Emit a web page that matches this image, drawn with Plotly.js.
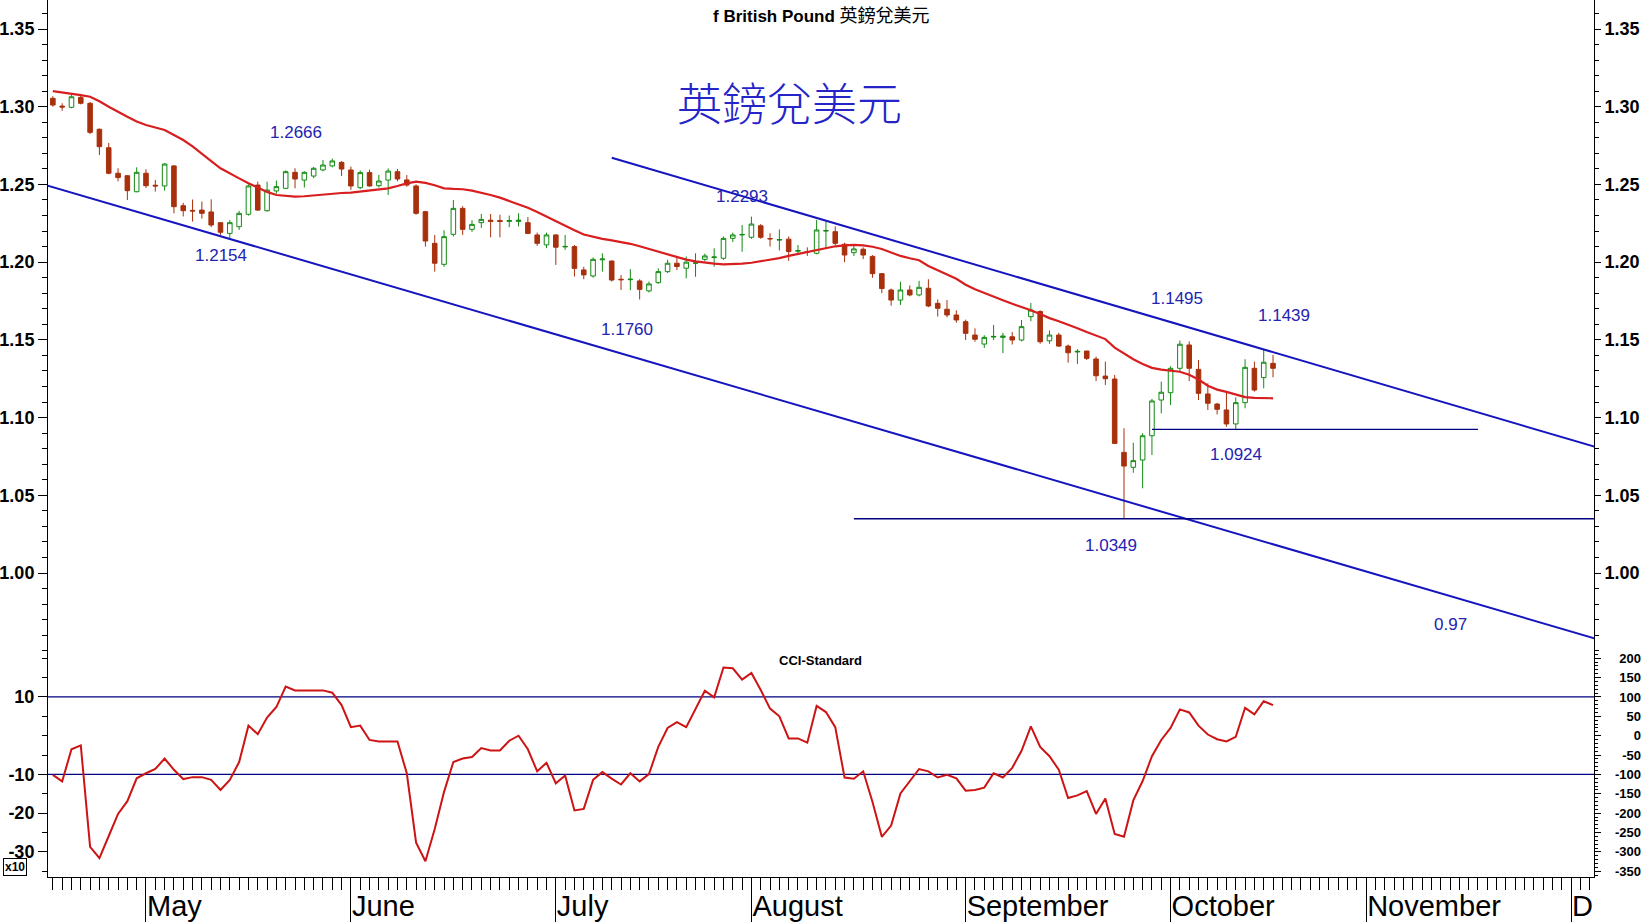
<!DOCTYPE html>
<html>
<head>
<meta charset="utf-8">
<script src="https://cdn.plot.ly/plotly-3.0.1.min.js"></script>
<style>
html,body{margin:0;padding:0;background:#fff;}
#chart{width:1643px;height:922px;}
</style>
</head>
<body>
<div id="chart"></div>
<script>
// ---------------- DATA ----------------
const firstDate = '2022-04-18';
const lastDate  = '2022-10-18';

const open = [
1.3054,1.3004,1.2996,1.3060,1.3022,1.2855,1.2736,1.2572,1.2556,1.2453,
1.2572,1.2495,1.2490,1.2619,1.2363,1.2333,1.2335,1.2323,1.2254,1.2185,
1.2228,1.2308,1.2496,1.2331,1.2458,1.2475,1.2578,1.2528,1.2554,1.2593,
1.2619,1.2642,1.2593,1.2479,1.2576,1.2492,1.2528,1.2582,1.2529,1.2490,
1.2325,1.2121,1.1986,1.2179,1.2346,1.2211,1.2254,1.2270,1.2268,1.2262,
1.2262,1.2254,1.2175,1.2111,1.2175,1.2098,1.2100,1.1950,1.1911,1.2015,
1.2007,1.1890,1.1887,1.1879,1.1815,1.1868,1.1939,1.1993,1.1961,1.1993,
1.2018,1.2030,1.2025,1.2153,1.2175,1.2160,1.2234,1.2152,1.2142,1.2148,
1.2070,1.2068,1.2057,1.2200,1.2196,1.2115,1.2061,1.2083,1.2037,1.1926,
1.1821,1.1756,1.1821,1.1789,1.1832,1.1735,1.1697,1.1660,1.1617,1.1531,
1.1473,1.1518,1.1516,1.1520,1.1499,1.1649,1.1682,1.1494,1.1531,1.1460,
1.1422,1.1428,1.1377,1.1267,1.1248,1.0776,1.0680,1.0727,1.0883,1.1113,
1.1160,1.1317,1.1467,1.1310,1.1152,1.1087,1.1049,1.0959,1.1096,1.1317,
1.1257,1.1349];
const high = [
1.3068,1.3022,1.3075,1.3079,1.3030,1.2860,1.2767,1.2604,1.2560,1.2610,
1.2598,1.2529,1.2638,1.2625,1.2381,1.2403,1.2390,1.2404,1.2256,1.2270,
1.2330,1.2500,1.2518,1.2518,1.2525,1.2590,1.2604,1.2585,1.2612,1.2657,
1.2666,1.2650,1.2615,1.2590,1.2595,1.2561,1.2603,1.2600,1.2560,1.2500,
1.2330,1.2175,1.2205,1.2400,1.2360,1.2270,1.2310,1.2310,1.2305,1.2300,
1.2315,1.2290,1.2190,1.2190,1.2180,1.2175,1.2110,1.1970,1.2030,1.2057,
1.2010,1.1917,1.1955,1.1890,1.1875,1.1960,1.2015,1.2036,1.2036,1.2057,
1.2055,1.2089,1.2165,1.2190,1.2239,1.2293,1.2245,1.2186,1.2210,1.2165,
1.2110,1.2095,1.2272,1.2260,1.2230,1.2125,1.2110,1.2095,1.2045,1.1930,
1.1830,1.1874,1.1850,1.1880,1.1890,1.1760,1.1756,1.1690,1.1630,1.1574,
1.1530,1.1596,1.1545,1.1550,1.1628,1.1737,1.1690,1.1560,1.1546,1.1470,
1.1440,1.1430,1.1392,1.1360,1.1274,1.0931,1.0838,1.0900,1.1120,1.1231,
1.1330,1.1495,1.1490,1.1370,1.1221,1.1095,1.1160,1.1130,1.1375,1.1360,
1.1439,1.1403];
const low = [
1.3000,1.2974,1.2990,1.3015,1.2824,1.2689,1.2565,1.2520,1.2400,1.2450,
1.2477,1.2454,1.2460,1.2314,1.2294,1.2261,1.2280,1.2225,1.2175,1.2154,
1.2207,1.2300,1.2330,1.2325,1.2440,1.2470,1.2475,1.2480,1.2540,1.2585,
1.2610,1.2554,1.2465,1.2470,1.2485,1.2480,1.2432,1.2520,1.2485,1.2305,
1.2100,1.1939,1.1970,1.2165,1.2175,1.2195,1.2220,1.2160,1.2160,1.2225,
1.2230,1.2180,1.2105,1.2090,1.1982,1.2079,1.1907,1.1890,1.1900,1.1939,
1.1875,1.1821,1.1820,1.1760,1.1805,1.1860,1.1930,1.1949,1.1896,1.1906,
1.2005,1.1971,1.2015,1.2130,1.2067,1.2150,1.2150,1.2100,1.2075,1.2008,
1.2050,1.2040,1.2050,1.2089,1.2110,1.2000,1.2040,1.2020,1.1900,1.1800,
1.1720,1.1724,1.1780,1.1780,1.1710,1.1650,1.1645,1.1610,1.1499,1.1488,
1.1448,1.1499,1.1415,1.1470,1.1490,1.1620,1.1475,1.1475,1.1455,1.1353,
1.1345,1.1370,1.1235,1.1210,1.0830,1.0349,1.0645,1.0545,1.0759,1.1027,
1.1081,1.1300,1.1235,1.1113,1.1049,1.1020,1.0941,1.0924,1.1060,1.1167,
1.1188,1.1259];
const close = [
1.3011,1.2998,1.3064,1.3022,1.2835,1.2743,1.2572,1.2544,1.2460,1.2578,
1.2492,1.2490,1.2631,1.2357,1.2331,1.2329,1.2314,1.2239,1.2192,1.2254,
1.2314,1.2490,1.2335,1.2464,1.2486,1.2582,1.2535,1.2578,1.2604,1.2625,
1.2651,1.2599,1.2490,1.2576,1.2490,1.2522,1.2586,1.2535,1.2496,1.2314,
1.2136,1.1993,1.2164,1.2346,1.2211,1.2243,1.2275,1.2262,1.2262,1.2268,
1.2270,1.2185,1.2121,1.2175,1.2096,1.2101,1.1960,1.1918,1.2018,1.2020,
1.1885,1.1887,1.1890,1.1825,1.1860,1.1939,1.1993,1.1972,1.2000,1.1995,
1.2040,1.2033,1.2153,1.2175,1.2178,1.2245,1.2160,1.2150,1.2145,1.2068,
1.2075,1.2066,1.2207,1.2203,1.2121,1.2046,1.2085,1.2046,1.1926,1.1830,
1.1756,1.1821,1.1789,1.1838,1.1718,1.1703,1.1660,1.1628,1.1542,1.1504,
1.1516,1.1522,1.1524,1.1499,1.1585,1.1692,1.1488,1.1531,1.1460,1.1417,
1.1426,1.1381,1.1269,1.1250,1.0834,1.0688,1.0723,1.0883,1.1107,1.1163,
1.1317,1.1472,1.1317,1.1156,1.1092,1.1053,1.0959,1.1096,1.1323,1.1177,
1.1356,1.1317];

// moving average (red line)
const movingAvg = [
1.3100,1.3092,1.3085,1.3075,1.3064,1.3035,1.3000,1.2965,1.2935,1.2905,
1.2882,1.2866,1.2850,1.2818,1.2786,1.2745,1.2700,1.2650,1.2604,1.2570,
1.2539,1.2508,1.2479,1.2452,1.2432,1.2425,1.2421,1.2424,1.2430,1.2437,
1.2443,1.2445,1.2447,1.2453,1.2460,1.2468,1.2475,1.2490,1.2507,1.2518,
1.2510,1.2495,1.2475,1.2471,1.2469,1.2460,1.2447,1.2432,1.2415,1.2395,
1.2372,1.2350,1.2322,1.2292,1.2262,1.2235,1.2205,1.2178,1.2162,1.2150,
1.2140,1.2130,1.2118,1.2102,1.2085,1.2066,1.2050,1.2032,1.2016,1.2005,
1.1997,1.1990,1.1986,1.1987,1.1991,1.1996,1.2005,1.2015,1.2026,1.2040,
1.2052,1.2064,1.2078,1.2090,1.2102,1.2108,1.2111,1.2108,1.2099,1.2085,
1.2060,1.2040,1.2025,1.2012,1.1975,1.1950,1.1920,1.1893,1.1855,1.1825,
1.1800,1.1778,1.1755,1.1732,1.1712,1.1690,1.1666,1.1640,1.1620,1.1600,
1.1575,1.1550,1.1530,1.1505,1.1450,1.1410,1.1375,1.1345,1.1320,1.1308,
1.1300,1.1295,1.1275,1.1245,1.1205,1.1180,1.1165,1.1150,1.1132,1.1127,
1.1125,1.1124];

// CCI-Standard values
const cci = [
-101,-118,-35,-25,-287,-316,-259,-202,-169,-110,
-97,-86,-59,-88,-112,-107,-107,-114,-140,-114,
-68,26,4,47,74,127,117,117,117,117,
111,79,22,26,-11,-15,-15,-15,-97,-276,
-324,-241,-145,-68,-59,-55,-32,-38,-38,-13,
0,-35,-92,-70,-123,-103,-193,-189,-114,-94,
-111,-126,-97,-118,-99,-29,20,35,22,70,
116,99,176,174,145,162,118,70,50,-7,
-7,-18,77,61,22,-108,-111,-92,-171,-261,
-232,-149,-118,-86,-92,-108,-101,-110,-142,-140,
-134,-97,-108,-83,-39,24,-29,-53,-88,-161,
-154,-143,-202,-162,-254,-261,-167,-117,-53,-11,
20,68,60,26,3,-9,-15,-3,72,55,
89,79];

// month ticks (first trading day of each month) and their labels
const monthStarts = ['2022-05-02','2022-06-01','2022-07-01','2022-08-01','2022-09-01','2022-10-03','2022-11-01','2022-12-01'];
const monthLabels = ['May','June','July','August','September','October','November','D'];

// trend channel lines: [date, price]
const upperChannel = [['2022-07-11',1.2672],['2022-12-06',1.0804]];
const lowerChannel = [['2022-04-15',1.2500],['2022-12-06',0.9571]];
// horizontal levels: value, from, to
const levelLow  = {value:1.0349, from:'2022-08-16', to:'2022-12-06'};
const levelMid  = {value:1.0924, from:'2022-09-29', to:'2022-11-17'};
const cciBands  = [100,-100];

// price labels on chart
const priceLabels = ['1.2666','1.2154','1.2293','1.1760','1.1495','1.1439','1.0924','1.0349','0.97'];
const priceTicks = [1.00,1.05,1.10,1.15,1.20,1.25,1.30,1.35];
const cciLeftTicks = [100,-100,-200,-300];
const cciLeftText = ['10','-10','-20','-30'];
const cciRightTicks = [200,150,100,50,0,-50,-100,-150,-200,-250,-300,-350];

// ---------------- HELPERS ----------------
const BASE = Date.UTC(2022,3,18);
function wd(s){ // weekday index relative to first date
  const t = Date.parse(s+'T00:00:00Z');
  const days = Math.round((t-BASE)/864e5);
  let n=0;
  if(days>=0){ for(let i=0;i<days;i++){const d=new Date(BASE+i*864e5).getUTCDay(); if(d!==0&&d!==6) n++;} }
  else { for(let i=-1;i>=days;i--){const d=new Date(BASE+i*864e5).getUTCDay(); if(d!==0&&d!==6) n--;} }
  return n;
}
const xIdx = open.map((_,i)=>i);

// ---------------- LAYOUT GEOMETRY ----------------
const W=1643,H=922,ML=48,MR=2,MT=0,MB=45;
const PW=W-ML-MR, PH=H-MT-MB;
const plotRight=1594;
const xDomEnd=(plotRight-ML)/PW;
const paneSplit=(PH-651.6)/PH;
const px = x => (x-ML)/PW;
const py = y => (PH+MT-y)/PH;

const FONT='Liberation Sans, Arial, sans-serif';
const CJK='Noto Sans CJK TC, Noto Sans CJK SC, sans-serif';
const BLUE='#1515c0';
const LBL='#2323b0';
const NAVY='#000080';

const traces = [
  {type:'candlestick', x:xIdx, open:open, high:high, low:low, close:close,
   xaxis:'x', yaxis:'y', whiskerwidth:0, hoverinfo:'skip', showlegend:false,
   increasing:{line:{color:'#138a13',width:1}, fillcolor:'#ffffff'},
   decreasing:{line:{color:'#a8300c',width:1}, fillcolor:'#a8300c'}},
  {type:'scatter', mode:'lines', x:xIdx, y:movingAvg, xaxis:'x', yaxis:'y',
   line:{color:'#d81e1e', width:2.2}, hoverinfo:'skip', showlegend:false},
  {type:'scatter', mode:'lines', x:upperChannel.map(p=>wd(p[0])), y:upperChannel.map(p=>p[1]),
   xaxis:'x', yaxis:'y', line:{color:BLUE,width:2}, hoverinfo:'skip', showlegend:false},
  {type:'scatter', mode:'lines', x:lowerChannel.map(p=>wd(p[0])), y:lowerChannel.map(p=>p[1]),
   xaxis:'x', yaxis:'y', line:{color:BLUE,width:2}, hoverinfo:'skip', showlegend:false},
  {type:'scatter', mode:'lines', x:[wd(levelLow.from),wd(levelLow.to)], y:[levelLow.value,levelLow.value],
   xaxis:'x', yaxis:'y', line:{color:NAVY,width:1.3}, hoverinfo:'skip', showlegend:false},
  {type:'scatter', mode:'lines', x:[wd(levelMid.from),wd(levelMid.to)], y:[levelMid.value,levelMid.value],
   xaxis:'x', yaxis:'y', line:{color:NAVY,width:1.3}, hoverinfo:'skip', showlegend:false},
  {type:'scatter', mode:'lines', x:xIdx, y:cci, xaxis:'x', yaxis:'y3',
   line:{color:'#cc1414', width:2}, hoverinfo:'skip', showlegend:false},
  // helpers so overlay axes are drawn
  {type:'scatter', x:[null], y:[null], xaxis:'x', yaxis:'y2', hoverinfo:'skip', showlegend:false},
  {type:'scatter', x:[null], y:[null], xaxis:'x', yaxis:'y4', hoverinfo:'skip', showlegend:false},
  {type:'scatter', x:[null], y:[null], xaxis:'x', yaxis:'y5', hoverinfo:'skip', showlegend:false}
];

const priceRange=[1.35-(PH*(1-paneSplit)-29)/1554.3, 1.35+29/1554.3];
const cciPx=0.3873, cciZeroY=735.7;
const cciRange=[-(PH-cciZeroY)/cciPx, (cciZeroY-651.6)/cciPx];

const tickFontBig={family:FONT,size:18,color:'#000',weight:'bold'};

const layout = {
  width:W, height:H, margin:{l:ML,r:MR,t:MT,b:MB},
  paper_bgcolor:'#fff', plot_bgcolor:'#fff', showlegend:false,
  xaxis:{domain:[0,xDomEnd], range:[-0.52,165.46], anchor:'y3', type:'linear',
    rangeslider:{visible:false}, showgrid:false, zeroline:false,
    showline:true, linecolor:'#000', linewidth:1,
    tickmode:'array', tickvals:monthStarts.map(wd), ticktext:monthLabels,
    ticks:'outside', ticklen:45, tickwidth:1, tickcolor:'#000',
    ticklabelposition:'outside right', ticklabelstandoff:3,
    tickfont:{family:FONT,size:29,color:'#000'},
    minor:{dtick:1, tick0:0, ticks:'outside', ticklen:12, tickwidth:1, tickcolor:'#000', showgrid:false}},
  yaxis:{domain:[paneSplit,1], range:priceRange, anchor:'x', side:'left',
    showgrid:false, zeroline:false, showline:true, linecolor:'#000', linewidth:1,
    tickmode:'array', tickvals:priceTicks, ticktext:priceTicks.map(v=>v.toFixed(2)),
    ticks:'outside', ticklen:9, tickcolor:'#000', tickfont:tickFontBig,
    minor:{dtick:0.01, tick0:0, ticks:'outside', ticklen:5, tickcolor:'#000', showgrid:false}},
  yaxis2:{overlaying:'y', side:'right', anchor:'x', range:priceRange,
    showgrid:false, zeroline:false, showline:true, linecolor:'#000', linewidth:1,
    tickmode:'array', tickvals:priceTicks, ticktext:priceTicks.map(v=>v.toFixed(2)),
    ticks:'outside', ticklen:6, tickcolor:'#000', tickfont:tickFontBig,
    minor:{dtick:0.01, tick0:0, ticks:'outside', ticklen:4, tickcolor:'#000', showgrid:false}},
  yaxis3:{domain:[0,paneSplit], range:cciRange, anchor:'x', side:'left',
    showgrid:false, zeroline:false, showline:true, linecolor:'#000', linewidth:1,
    tickmode:'array', tickvals:cciLeftTicks, ticktext:cciLeftText,
    ticks:'outside', ticklen:9, tickcolor:'#000', tickfont:tickFontBig,
    minor:{dtick:50, tick0:0, ticks:'outside', ticklen:5, tickcolor:'#000', showgrid:false}},
  yaxis4:{overlaying:'y3', side:'right', anchor:'x', range:cciRange,
    showgrid:false, zeroline:false, showline:true, linecolor:'#000', linewidth:1,
    tickmode:'array', tickvals:cciRightTicks, showticklabels:false,
    ticks:'outside', ticklen:6, tickcolor:'#000',
    minor:{dtick:10, tick0:0, ticks:'outside', ticklen:3, tickcolor:'#000', showgrid:false}},
  yaxis5:{overlaying:'y3', side:'left', anchor:'free', position:1, range:cciRange,
    showgrid:false, zeroline:false, showline:false, ticks:'',
    tickmode:'array', tickvals:cciRightTicks, ticktext:cciRightTicks.map(String),
    tickfont:{family:FONT,size:13,color:'#000',weight:'bold'}},
  shapes: cciBands.map(v=>({type:'line', xref:'x domain', x0:0, x1:1, yref:'y3', y0:v, y1:v,
    line:{color:NAVY,width:1.3}, layer:'below'})),
  annotations:[
    {xref:'paper',yref:'paper',x:px(821),y:py(16),xanchor:'center',yanchor:'middle',showarrow:false,
     text:'<b>f British Pound</b> <span style="font-size:18px">英鎊兌美元</span>',
     font:{family:'Liberation Sans, Noto Sans CJK TC, sans-serif',size:17,color:'#000'}},
    {xref:'paper',yref:'paper',x:px(789.5),y:py(101),xanchor:'center',yanchor:'middle',showarrow:false,
     text:'英鎊兌美元', font:{family:CJK,size:45,color:'#2424c8',weight:300}},
    {xref:'paper',yref:'paper',x:px(820),y:py(660.5),xanchor:'center',yanchor:'middle',showarrow:false,
     text:'<b>CCI-Standard</b>', font:{family:FONT,size:13,color:'#000'}},
    {xref:'paper',yref:'paper',x:px(15.4),y:py(867),xanchor:'center',yanchor:'middle',showarrow:false,
     text:'<b>x10</b>', font:{family:FONT,size:12,color:'#000'},
     bordercolor:'#000',borderwidth:1,borderpad:1,bgcolor:'#fff'}
  ]
};

const labelPos = [[296,132.5],[220.7,255.5],[742,196],[627,329],[1177,299],[1284,315],[1236,454],[1111,545],[1450.5,624.5]];
priceLabels.forEach((t,i)=>{
  layout.annotations.push({xref:'paper',yref:'paper',x:px(labelPos[i][0]),y:py(labelPos[i][1]),
    xanchor:'center',yanchor:'middle',showarrow:false,text:t,
    font:{family:FONT,size:17,color:LBL}});
});

Plotly.newPlot('chart', traces, layout, {staticPlot:true, displayModeBar:false});
</script>
</body>
</html>
